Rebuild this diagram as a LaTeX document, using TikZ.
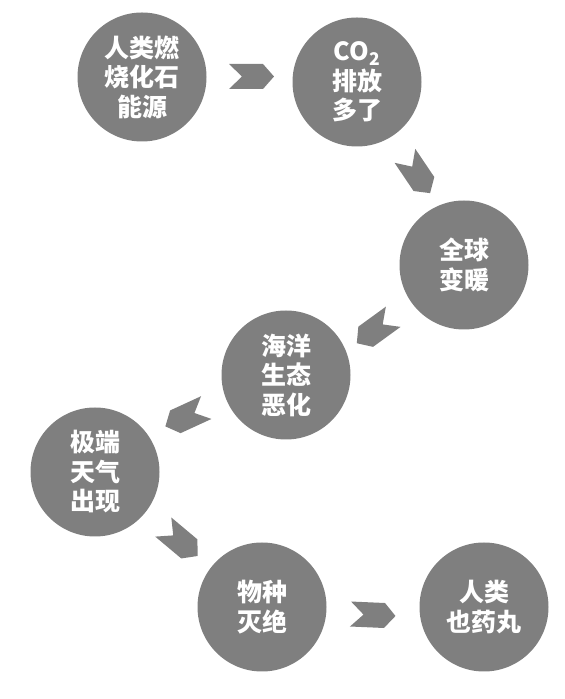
\documentclass[tikz,border=0pt]{standalone}
\usepackage{fontspec}
\newfontfamily\cjk{Noto Sans CJK SC}
\usetikzlibrary{calc}
\definecolor{circgray}{RGB}{127,127,127}
\tikzset{
  stage/.style={circle, fill=circgray, draw=none, minimum size=129pt, inner sep=0pt,
    text=white, align=center, font=\cjk\bfseries\fontsize{25pt}{29.5pt}\selectfont},
  chev/.pic={\fill[circgray] (-22.5,12.5) -- (11.5,12.5) -- (22.5,0) -- (11.5,-12.5)
     -- (-22.5,-12.5) -- (-9.5,0) -- cycle;}
}
\begin{document}
\begin{tikzpicture}[x=1pt,y=1pt]
\useasboundingbox (0,0) rectangle (565,699);
\node[stage] (c1) at (142,622) {人类燃\\烧化石\\能源};
\node[stage] (c2) at (357,617) {CO\textsubscript{2}\\排放\\多了};
\node[stage] (c3) at (464,434) {全球\\变暖};
\node[stage] (c4) at (286,324) {海洋\\生态\\恶化};
\node[stage] (c5) at (95,227) {极端\\天气\\出现};
\node[stage] (c6) at (262,92) {物种\\灭绝};
\node[stage] (c7) at (484,92) {人类\\也药丸};
\pic[rotate=0] at ($(c1)!0.5!(c2)+(2,3)$) {chev};
\pic[rotate=-56] at ($(c2)!0.5!(c3)+(7,-1)$) {chev};
\pic[rotate=216] at ($(c3)!0.5!(c4)+(0,-10)$) {chev};
\pic[rotate=204.7] at ($(c4)!0.5!(c5)+(-4.7,6.5)$) {chev};
\pic[rotate=-40] at ($(c5)!0.5!(c6)+(2,-2)$) {chev};
\pic[rotate=-2.5] at ($(c6)!0.5!(c7)+(0,-8)$) {chev};
\end{tikzpicture}
\end{document}
